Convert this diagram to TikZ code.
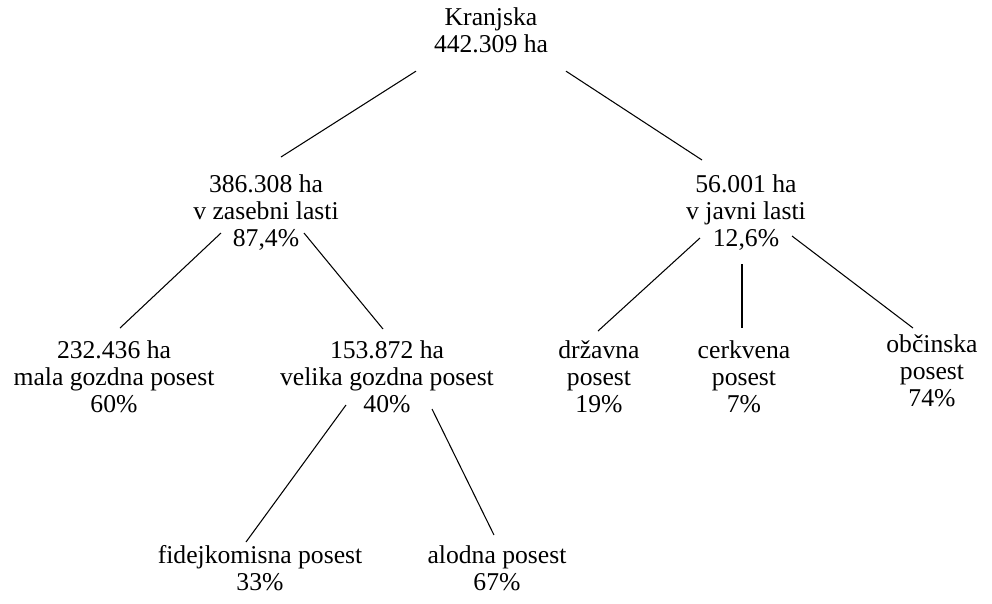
\documentclass[tikz,border=0pt]{standalone}
\usepackage{fontspec}
\setmainfont{Liberation Serif}
\tikzset{
	lbl/.style={align=center, inner sep=0pt, anchor=north, font=\fontsize{14.6pt}{15.3pt}\selectfont}, % text blocks of the tree
	branch/.style={line width=0.6pt}, % the plain lines between the blocks
}

\begin{document}
\begin{tikzpicture}[x=0.02cm, y=-0.02cm]
	\useasboundingbox (0,0) rectangle (992,603);
	\node[lbl] at (491, 7.4) (root) {Kranjska\\442.309 ha};
	\node[lbl] at (266, 174.4) (priv) {386.308 ha\\v zasebni lasti\\87,4\%};
	\node[lbl] at (746, 174.4) (pub) {56.001 ha\\v javni lasti\\12,6\%};
	\node[lbl] at (114, 340.4) (mala) {232.436 ha\\mala gozdna posest\\60\%};
	\node[lbl] at (387, 340.4) (velika) {153.872 ha\\velika gozdna posest\\40\%};
	\node[lbl] at (599, 340.4) (drz) {državna\\posest\\19\%};
	\node[lbl] at (744, 340.4) (cerk) {cerkvena\\posest\\7\%};
	\node[lbl] at (932, 334.4) (obc) {občinska\\posest\\74\%};
	\node[lbl] at (260, 545.4) (fid) {fidejkomisna posest\\33\%};
	\node[lbl] at (497, 545.4) (alod) {alodna posest\\67\%};
	% first level
	\draw[branch] ([shift={(-75,18)}]root.south) -- ([shift={(15,-17.4)}]priv.north);
	\draw[branch] ([shift={(75,18)}]root.south) -- ([shift={(-44,-14.4)}]pub.north);
	% private part
	\draw[branch] ([shift={(-45,-17.6)}]priv.south) -- ([shift={(6,-12.4)}]mala.north);
	\draw[branch] ([shift={(38,-17.6)}]priv.south) -- ([shift={(-4,-11.4)}]velika.north);
	% public part
	\draw[branch] ([shift={(-46,-12.6)}]pub.south) -- ([shift={(-1,-9.4)}]drz.north);
	\draw[branch] ([shift={(-4,13.4)}]pub.south) -- ([shift={(-2,-12.4)}]cerk.north);
	\draw[branch] ([shift={(46,-14.6)}]pub.south) -- ([shift={(-19,-6.4)}]obc.north);
	% large holdings
	\draw[branch] ([shift={(-41,-8)}]velika.south) -- ([shift={(-14,-3.4)}]fid.north);
	\draw[branch] ([shift={(45,-4)}]velika.south) -- ([shift={(-3,-10.4)}]alod.north);
\end{tikzpicture}
\end{document}
